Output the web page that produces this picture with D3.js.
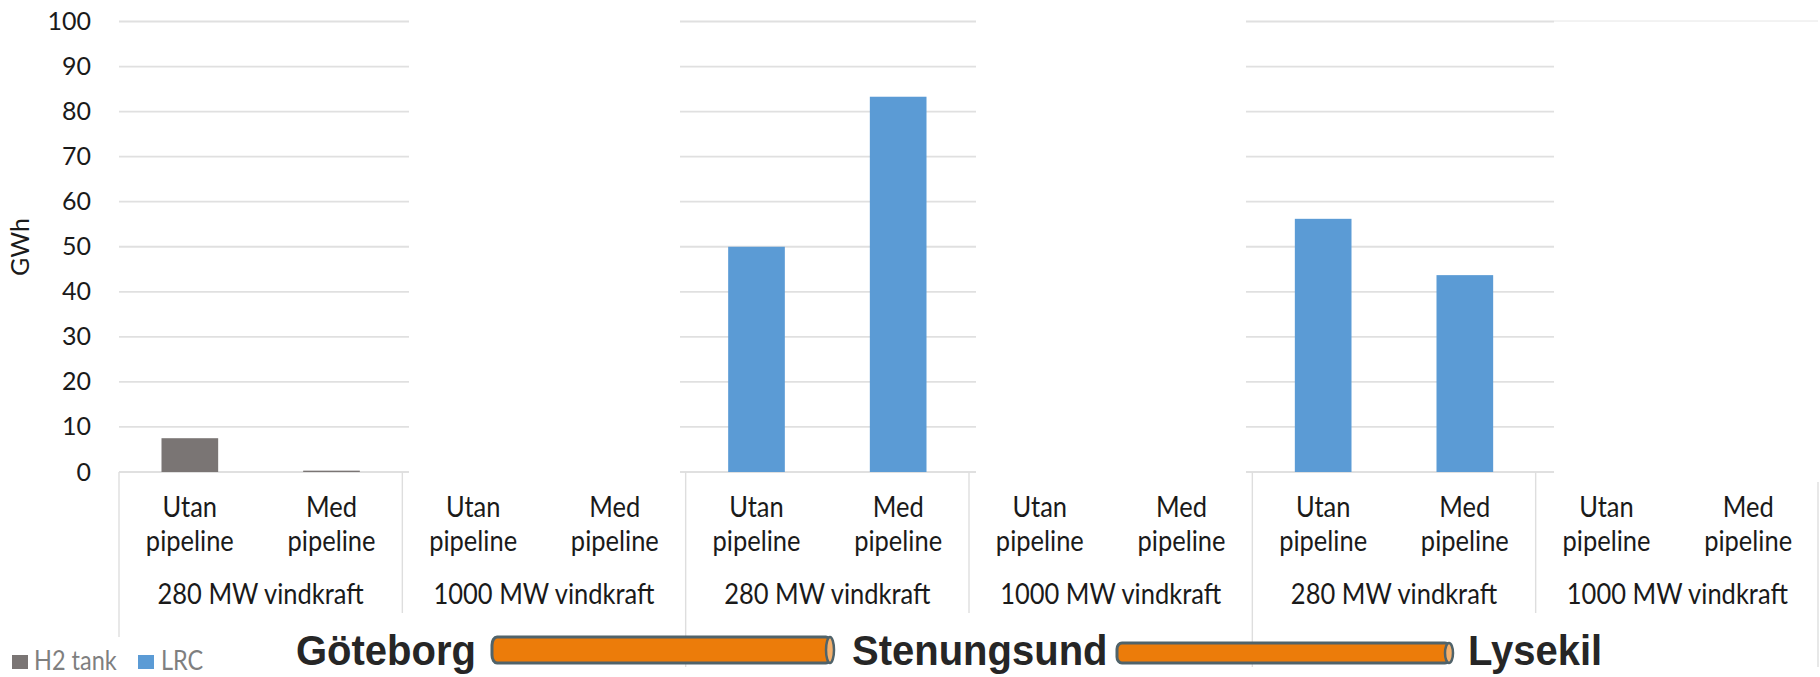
<!DOCTYPE html>
<html><head><meta charset="utf-8">
<script src="https://cdn.jsdelivr.net/npm/d3@7/dist/d3.min.js"></script>
<style>html,body{margin:0;padding:0;background:#fff;overflow:hidden}svg{display:block}
text{font-family:Lato,"Open Sans",sans-serif}</style></head><body>
<svg id="c" width="1820" height="677"></svg>
<script>
const groups = ["280 MW vindkraft","1000 MW vindkraft","280 MW vindkraft","1000 MW vindkraft","280 MW vindkraft","1000 MW vindkraft"];
const subLabels = ["Utan","Med"];
const h2tank = [7.5,0.3,0,0,0,0,0,0,0,0,0,0];
const lrc = [0,0,0,0,50,83.3,0,0,56.2,43.7,0,0];
const yTicks = [0,10,20,30,40,50,60,70,80,90,100];
const colors = {h2:"#7a7574", lrc:"#5b9bd5"};
const legend = [["H2 tank",colors.h2,12,34],["LRC",colors.lrc,138,161]];
const gridSpans = [[119,409],[680,976],[1246,1554]];
const cities = [["Göteborg",296],["Stenungsund",852],["Lysekil",1468]];
const pipes = [[492,834,637,663],[1117,1453,643,663]];

const svg = d3.select("#c");
const y = d3.scaleLinear().domain([0,100]).range([472,21.5]);
const keys = d3.range(12);
const x = d3.scaleBand().domain(keys).range([119,1819]).paddingInner(0.6).paddingOuter(0.3);
const gx = d3.scaleBand().domain(d3.range(6)).range([119,1819]);

// text drawn with a slight vertical stretch, as in the reference
function label(t,px,py,size,fill,anchor,sy){
  svg.append("text").attr("transform",`translate(${px},${py}) scale(1,${sy})`)
    .attr("text-anchor",anchor).attr("dominant-baseline","middle")
    .attr("font-size",size+"px").attr("fill",fill).text(t);
}

// grid
gridSpans.forEach(([a,b])=>{
  svg.append("g").selectAll("line").data(yTicks).join("line")
    .attr("x1",a).attr("x2",b).attr("y1",d=>y(d)).attr("y2",d=>y(d))
    .attr("stroke","#e0e0e0").attr("stroke-width",1.8);
});
svg.append("line").attr("x1",1554).attr("x2",1818).attr("y1",21).attr("y2",21).attr("stroke","#e6e6e6").attr("stroke-width",1);

// separators
const sepEnd = [637,613,667,613,667,613,667];
svg.append("g").selectAll("line").data(sepEnd).join("line")
  .attr("x1",(d,i)=>i<6?gx(i):1818).attr("x2",(d,i)=>i<6?gx(i):1818)
  .attr("y1",(d,i)=>i<6?472:482).attr("y2",d=>d)
  .attr("stroke","#dedede").attr("stroke-width",1.4);

// bars
[[h2tank,colors.h2],[lrc,colors.lrc]].forEach(([vals,c])=>{
  svg.append("g").selectAll("rect").data(vals.map((v,i)=>({v,i})).filter(d=>d.v>0)).join("rect")
    .attr("x",d=>x(d.i)).attr("width",x.bandwidth())
    .attr("y",d=>y(d.v)).attr("height",d=>y(0)-y(d.v)).attr("fill",c);
});

// y axis
const ax = svg.append("g").attr("transform","translate(99,0)")
  .call(d3.axisLeft(y).tickValues(yTicks).tickSize(0).tickPadding(8));
ax.select(".domain").remove();
ax.selectAll("text").style("font-family","Lato").style("font-size","25px").attr("fill","#1a1a1a");

svg.append("text").attr("transform","translate(23,247) rotate(-90)").attr("text-anchor","middle")
  .attr("dominant-baseline","middle").attr("font-size","25px").attr("fill","#1a1a1a").text("GWh");

// category labels
keys.forEach(i=>{
  const cx = x(i)+x.bandwidth()/2;
  label(subLabels[i%2],cx,510,25.5,"#1a1a1a","middle",1.12);
  label("pipeline",cx,544,25.5,"#1a1a1a","middle",1.12);
});
groups.forEach((g,i)=>label(g,gx(i)+gx.bandwidth()/2,597,25.5,"#1a1a1a","middle",1.1));

// legend
legend.forEach(([t,c,sx,tx])=>{
  svg.append("rect").attr("x",sx).attr("y",655).attr("width",16).attr("height",14).attr("fill",c);
  label(t,tx,663,23.5,"#7f7f7f","start",1.12);
});

// pipes
pipes.forEach(([a,b,t,bt])=>{
  const h=bt-t, r=h/2, cy=(t+bt)/2;
  svg.append("rect").attr("x",a).attr("y",t).attr("width",b-a-3).attr("height",h).attr("rx",5).attr("ry",r>10?8:6)
    .attr("fill","#ec7c0a").attr("stroke","#50636a").attr("stroke-width",3);
  svg.append("ellipse").attr("cx",b-4).attr("cy",cy).attr("rx",4).attr("ry",r)
    .attr("fill","#f4b06c").attr("stroke","#50636a").attr("stroke-width",2.5);
});

// cities
cities.forEach(([t,px])=>{
  svg.append("text").attr("transform",`translate(${px},665) scale(1,1.08)`).style("font-family","'Liberation Sans'")
    .attr("font-weight",700).attr("font-size","40px").attr("fill","#262626").text(t);
});
</script></body></html>
